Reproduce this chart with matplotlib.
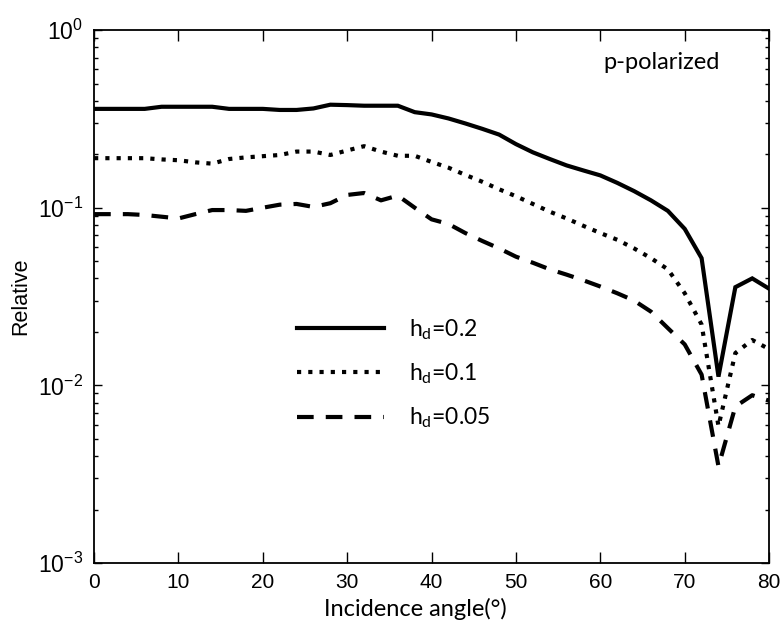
import numpy as np
import matplotlib
matplotlib.use('Agg')
import matplotlib.pyplot as plt
from matplotlib.ticker import LogLocator, FixedLocator

# incidence angle (deg)
angle = list(range(0, 82, 2))

# relative values
h_02 = [0.36, 0.36, 0.36, 0.36, 0.37, 0.37, 0.37, 0.37, 0.36, 0.36,
        0.36, 0.355, 0.355, 0.362, 0.38, 0.378, 0.375, 0.375, 0.375, 0.345,
        0.335, 0.318, 0.298, 0.278, 0.258, 0.228, 0.205, 0.188, 0.173, 0.162,
        0.152, 0.138, 0.124, 0.11, 0.096, 0.076, 0.052, 0.0112, 0.0357, 0.040,
        0.035]
h_01 = [0.19, 0.19, 0.19, 0.19, 0.187, 0.185, 0.18, 0.177, 0.188, 0.192,
        0.195, 0.198, 0.207, 0.207, 0.198, 0.21, 0.222, 0.207, 0.196, 0.196,
        0.181, 0.168, 0.153, 0.14, 0.127, 0.116, 0.105, 0.095, 0.087, 0.079,
        0.072, 0.066, 0.059, 0.052, 0.045, 0.033, 0.022, 0.0059, 0.0152, 0.018,
        0.016]
h_005 = [0.092, 0.092, 0.092, 0.091, 0.089, 0.087, 0.092, 0.097, 0.097, 0.096,
         0.1, 0.104, 0.105, 0.101, 0.106, 0.118, 0.121, 0.11, 0.117, 0.1,
         0.086, 0.081, 0.072, 0.065, 0.059, 0.053, 0.049, 0.045, 0.042, 0.039,
         0.036, 0.033, 0.030, 0.026, 0.021, 0.017, 0.0115, 0.0035, 0.0076, 0.0088,
         0.0082]

labels = ['h$_\\mathregular{d}$=0.2', 'h$_\\mathregular{d}$=0.1', 'h$_\\mathregular{d}$=0.05']

plt.rcParams['font.family'] = ['Liberation Sans', 'DejaVu Sans']
plt.rcParams['mathtext.default'] = 'regular'
humanist = ['Lato', 'DejaVu Sans']

fig = plt.figure(figsize=(7.84, 6.26), dpi=100)
ax = fig.add_axes([0.12, 0.1006, 0.861, 0.8514])

ax.plot(angle, h_02, color='black', lw=3, solid_joinstyle='miter', label=labels[0])
ax.plot(angle, h_01, color='black', lw=3, linestyle=(0, (1, 1.7)), label=labels[1])
ax.plot(angle, h_005, color='black', lw=3, linestyle=(0, (4, 2.9)), label=labels[2])

ax.set_yscale('log')
ax.set_xlim(0, 80)
ax.set_ylim(1e-3, 1)
ax.xaxis.set_major_locator(FixedLocator(np.arange(0, 81, 10)))
ax.yaxis.set_major_locator(LogLocator(base=10, numticks=10))
ax.yaxis.set_minor_locator(LogLocator(base=10, subs=np.arange(2, 10), numticks=10))

ax.tick_params(axis='both', which='both', direction='in', top=True, right=True, width=1)
ax.tick_params(axis='x', which='major', length=8, labelsize=15, pad=7)
ax.tick_params(axis='y', which='major', length=6, labelsize=16.5, pad=8)
ax.tick_params(axis='y', which='minor', length=3)
for s in ax.spines.values():
    s.set_linewidth(1.3)

ax.set_xlabel('Incidence angle(°)', fontsize=17, family=humanist)
ax.xaxis.set_label_coords(0.476, -0.066)
ax.set_ylabel('Relative', fontsize=15.5, labelpad=5)

ax.text(0.84, 0.94, 'p-polarized', transform=ax.transAxes, fontsize=17,
        family=humanist, ha='center', va='center')

leg = ax.legend(loc='center left', bbox_to_anchor=(0.27, 0.355), frameon=False,
                handlelength=3.8, handletextpad=1.1, labelspacing=0.85,
                prop={'family': humanist, 'size': 16.5})

plt.savefig('out.png', dpi=100)
